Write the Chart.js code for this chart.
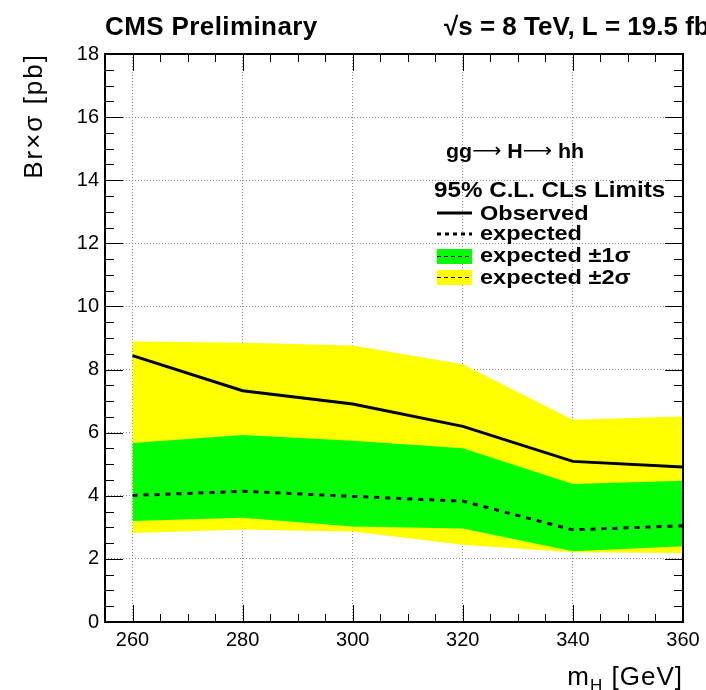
<!DOCTYPE html>
<html>
<head>
<meta charset="utf-8">
<script src="https://cdn.jsdelivr.net/npm/chart.js@4.4.1/dist/chart.umd.min.js"></script>
<style>
  html, body { margin: 0; padding: 0; background: #fff; }
  #wrap { width: 706px; height: 690px; }
</style>
</head>
<body>
<div id="wrap"><canvas id="limits"></canvas></div>
<script>
const masses   = [260, 280, 300, 320, 340, 360];
const observed = [8.44, 7.33, 6.91, 6.20, 5.09, 4.91];
const expected = [4.01, 4.14, 3.98, 3.83, 2.92, 3.05];
const plus1    = [5.67, 5.93, 5.74, 5.51, 4.37, 4.48];
const minus1   = [3.20, 3.30, 3.03, 2.96, 2.24, 2.40];
const plus2    = [8.89, 8.85, 8.76, 8.17, 6.41, 6.51];
const minus2   = [2.82, 2.93, 2.87, 2.45, 2.21, 2.19];

const xTicks = [260, 280, 300, 320, 340, 360];
const yTicks = [0, 2, 4, 6, 8, 10, 12, 14, 16, 18];

const FONT = "'Liberation Sans', Arial, Helvetica, sans-serif";
const ARROW_FONT = "'DejaVu Sans', sans-serif";
const YELLOW = "#ffff00", GREEN = "#00ff00";

const pts = arr => masses.map((m, i) => ({ x: m, y: arr[i] }));

function band(values, fill, color, order) {
    return {
        data: pts(values),
        fill: fill,
        backgroundColor: color,
        borderColor: "rgba(0,0,0,0)",
        borderWidth: 0,
        pointRadius: 0,
        tension: 0,
        order: order
    };
}

// draw a run of [text, font, dy] pieces, stretched horizontally by sx
function drawRun(ctx, pieces, x, y, sx) {
    ctx.save();
    ctx.translate(x, y);
    ctx.scale(sx || 1, 1);
    let cx = 0;
    pieces.forEach(([txt, font, dy]) => {
        ctx.font = font;
        ctx.fillText(txt, cx, dy || 0);
        cx += ctx.measureText(txt).width;
    });
    ctx.restore();
}

// ROOT style ticks pointing into the frame (drawn below the bands)
const rootTicks = {
    id: "rootTicks",
    beforeDatasetsDraw(chart) {
        const { ctx, chartArea: a, scales: { x, y } } = chart;
        ctx.save();
        ctx.strokeStyle = "#000";
        ctx.lineWidth = 1;
        ctx.beginPath();
        for (let v = 260; v < 360; v += 5) {
            const px = Math.round(x.getPixelForValue(v)) + 0.5;
            const len = (v % 20 === 0) ? 17 : 8;
            ctx.moveTo(px, a.bottom); ctx.lineTo(px, a.bottom - len);
            ctx.moveTo(px, a.top); ctx.lineTo(px, a.top + len);
        }
        for (let v = 0.5; v < 18; v += 0.5) {
            const py = Math.round(y.getPixelForValue(v)) + 0.5;
            const len = (v % 2 === 0) ? 18 : 9;
            ctx.moveTo(a.left, py); ctx.lineTo(a.left + len, py);
            ctx.moveTo(a.right, py); ctx.lineTo(a.right - len, py);
        }
        ctx.stroke();
        ctx.restore();
    }
};

// frame, titles and legend
const decorations = {
    id: "decorations",
    afterDraw(chart) {
        const { ctx, chartArea: a } = chart;
        ctx.save();
        ctx.strokeStyle = "#000";
        ctx.lineWidth = 2;
        ctx.strokeRect(a.left, a.top, a.right - a.left, a.bottom - a.top);

        ctx.fillStyle = "#000";
        ctx.textBaseline = "alphabetic";
        ctx.textAlign = "left";
        ctx.font = "bold 26px " + FONT;
        ctx.letterSpacing = "0.4px";
        ctx.fillText("CMS Preliminary", 105, 35);
        ctx.letterSpacing = "0px";
        ctx.fillText("\u221As = 8 TeV, L = 19.5 fb\u207B\u00B9", 444, 35);

        // y title
        ctx.save();
        ctx.translate(42, 53);
        ctx.rotate(-Math.PI / 2);
        ctx.textAlign = "right";
        ctx.font = "26px " + FONT;
        ctx.letterSpacing = "2px";
        ctx.fillText("Br\u00D7\u03C3 [pb]", 0, 0);
        ctx.restore();

        // x title m_H [GeV]
        ctx.font = "26px " + FONT;
        ctx.letterSpacing = "1px";
        const wM = ctx.measureText("m").width;
        const wRest = ctx.measureText(" [GeV]").width;
        ctx.font = "17px " + FONT;
        const wH = ctx.measureText("H").width;
        let x0 = a.right - (wM + wH + wRest);
        ctx.font = "26px " + FONT;
        ctx.fillText("m", x0, 685);
        ctx.font = "17px " + FONT;
        ctx.fillText("H", x0 + wM, 691);
        ctx.font = "26px " + FONT;
        ctx.fillText(" [GeV]", x0 + wM + wH, 685);
        ctx.letterSpacing = "0px";

        // legend
        const b21 = "bold 21px " + FONT, arrow = "20px " + ARROW_FONT;
        drawRun(ctx, [["gg", b21], ["\u27F6", arrow, -1], [" H", b21],
                      ["\u27F6", arrow, -1], [" hh", b21]], 446, 158, 1.02);
        drawRun(ctx, [["95% C.L. CLs Limits", "bold 22px " + FONT]], 434, 197, 1.1);

        const lx = 437, lw = 35, tx = 480;
        ctx.lineWidth = 3;
        ctx.beginPath(); ctx.moveTo(lx, 213); ctx.lineTo(lx + lw, 213); ctx.stroke();
        ctx.setLineDash([4, 4]);
        ctx.beginPath(); ctx.moveTo(lx, 234); ctx.lineTo(lx + lw, 234); ctx.stroke();

        ctx.setLineDash([]);
        ctx.fillStyle = GREEN;  ctx.fillRect(lx, 249, lw, 15);
        ctx.fillStyle = YELLOW; ctx.fillRect(lx, 270, lw, 15);
        ctx.lineWidth = 1.2;
        ctx.setLineDash([4, 3]);
        ctx.beginPath();
        ctx.moveTo(lx, 256.5); ctx.lineTo(lx + lw, 256.5);
        ctx.moveTo(lx, 277.5); ctx.lineTo(lx + lw, 277.5);
        ctx.stroke();
        ctx.setLineDash([]);

        ctx.fillStyle = "#000";
        drawRun(ctx, [["Observed", b21]], tx, 220, 1.12);
        drawRun(ctx, [["expected", b21]], tx, 240, 1.12);
        drawRun(ctx, [["expected \u00B11\u03C3", b21]], tx, 262, 1.12);
        drawRun(ctx, [["expected \u00B12\u03C3", b21]], tx, 284, 1.12);
        ctx.restore();
    }
};

const ctx = document.getElementById("limits");
new Chart(ctx, {
    type: "line",
    data: {
        datasets: [
            band(plus2, "+1", YELLOW, 4),
            band(minus2, false, YELLOW, 4),
            band(plus1, "+1", GREEN, 3),
            band(minus1, false, GREEN, 3),
            {
                data: pts(expected),
                borderColor: "#000",
                borderWidth: 3,
                borderDash: [5, 6],
                pointRadius: 0,
                fill: false,
                tension: 0,
                order: 2
            },
            {
                data: pts(observed),
                borderColor: "#000",
                borderWidth: 3,
                pointRadius: 0,
                fill: false,
                tension: 0,
                order: 1
            }
        ]
    },
    options: {
        responsive: true,
        maintainAspectRatio: false,
        animation: false,
        events: [],
        layout: { padding: { left: 0, top: 54, right: 23, bottom: 0 } },
        plugins: {
            legend: { display: false },
            tooltip: { enabled: false },
            title: { display: false }
        },
        scales: {
            x: {
                type: "linear",
                min: 255,
                max: 360,
                afterBuildTicks: s => { s.ticks = xTicks.map(v => ({ value: v })); },
                afterFit: s => { s.height = 68; },
                ticks: {
                    color: "#000",
                    padding: 6,
                    maxRotation: 0,
                    font: { family: FONT, size: 20 }
                },
                grid: { color: "#8a8a8a", lineWidth: 1, drawTicks: false },
                border: { display: false, dash: [1, 2] }
            },
            y: {
                min: 0,
                max: 18,
                afterBuildTicks: s => { s.ticks = yTicks.map(v => ({ value: v })); },
                afterFit: s => { s.width = 105; },
                ticks: {
                    color: "#000",
                    padding: 6,
                    font: { family: FONT, size: 20 }
                },
                grid: { color: "#8a8a8a", lineWidth: 1, drawTicks: false },
                border: { display: false, dash: [1, 2] }
            }
        }
    },
    plugins: [rootTicks, decorations]
});
</script>
</body>
</html>
